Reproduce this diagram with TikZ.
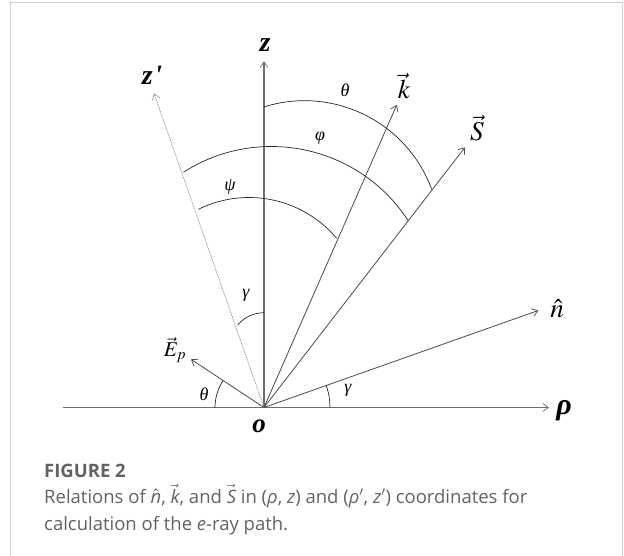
\documentclass[tikz,border=0pt]{standalone}
\usepackage{mathptmx}
\usepackage[no-math]{fontspec}
\newfontfamily\tim{Liberation Serif}
\newfontfamily\capf{Open Sans}
\usetikzlibrary{arrows.meta}
\definecolor{ln}{HTML}{4A4A4A}
\definecolor{axc}{HTML}{6E6E6E}
\definecolor{capc}{HTML}{626262}
\definecolor{frm}{HTML}{D0D0D0}
\begin{document}
\begin{tikzpicture}[x=1pt,y=-1pt,
  tip/.style={-{Straight Barb[length=5.5pt,width=8pt,line width=0.7pt]}},
  axisline/.style={draw=axc, line width=1.1pt, tip},
  vecline/.style={draw=ln, line width=0.8pt, tip},
  dotline/.style={draw=gray!80, line width=0.7pt, dash pattern=on 1.6pt off 0.9pt, tip},
  arcline/.style={draw=black!85, line width=0.7pt},
  axlbl/.style={inner sep=0pt, font=\tim\bfseries\itshape\fontsize{28}{28}\selectfont},
  veclbl/.style={inner sep=0pt, font=\fontsize{27}{27}\selectfont},
  grk/.style={inner sep=0pt, font=\tim\itshape\fontsize{18}{18}\selectfont},
  captxt/.style={inner sep=0pt, anchor=base west, text=capc, font=\capf\fontsize{18.5}{18.5}\selectfont}]
\useasboundingbox (0,0) rectangle (624,556);
\draw[frm, line width=1.4pt] (10.5,570) -- (10.5,2.5) -- (622.5,2.5) -- (622.5,570);

% points
\coordinate (O) at (264,407.5);
\coordinate (rhoL) at (63.3,407.5);
\coordinate (rhoT) at (549,407.5);
\coordinate (zT) at (264,61.5);
\coordinate (zpT) at (154,93.3);
\coordinate (kT) at (396.7,105);
\coordinate (ST) at (465,147.3);
\coordinate (nT) at (538.3,310.5);
\coordinate (ET) at (191,359.3);

% axes and vectors
\draw[axisline] (rhoL) -- (rhoT);
\draw[axisline] (O) -- (zT);
\draw[dotline] (O) -- (zpT);
\draw[vecline] (O) -- (kT);
\draw[vecline] (O) -- (ST);
\draw[vecline] (O) -- (nT);
\draw[vecline] (O) -- (ET);

% arcs
\coordinate (cth) at (304.5,236.3);
\coordinate (cph) at (271.4,309.8);
\coordinate (cps) at (249,311.9);
\coordinate (cga) at (264,347);
\draw[arcline] ([shift={(-107.4:135.6)}]cth) arc[start angle=-107.4, end angle=-20.3, radius=135.6];
\draw[arcline] ([shift={(-122.6:163.3)}]cph) arc[start angle=-122.6, end angle=-33.1, radius=163.3];
\draw[arcline] ([shift={(-116.3:114.4)}]cps) arc[start angle=-116.3, end angle=-40, radius=114.4];
\draw[arcline] ([shift={(-140:34.3)}]cga) arc[start angle=-140, end angle=-90, radius=34.3];
\draw[arcline] ([shift={(-146.6:49)}]O) arc[start angle=-146.6, end angle=-180, radius=49];
\draw[arcline] ([shift={(0:66)}]O) arc[start angle=0, end angle=-19.3, radius=66];

% labels
\node[axlbl] (zl) at (265,45) {z};
\node[axlbl] (zpl) at (152,75) {z\kern1.5pt'};
\node[axlbl, font=\tim\bfseries\itshape\fontsize{30}{30}\selectfont] (rhol) at (564,411) {ρ};
\node[axlbl, font=\tim\bfseries\itshape\fontsize{27}{27}\selectfont] (ol) at (259,426) {o};
\node[veclbl] (kl) at (404,86) {$\vec{k}$};
\node[veclbl] (Sl) at (477,128) {$\vec{S}$};
\node[veclbl] (nl) at (557,309) {$\hat{n}$};
\node[inner sep=0pt, font=\fontsize{21}{21}\selectfont] (El) at (175,350) {$\vec{E}_{p}$};
\node[grk] (th1) at (345,90) {θ};
\node[grk] (phl) at (320,138) {φ};
\node[grk] (psl) at (230,187) {ψ};
\node[grk] (ga1) at (246,295) {γ};
\node[grk] (th2) at (204,394) {θ};
\node[grk] (ga2) at (348,390) {γ};

% caption
\node[captxt, font=\capf\bfseries\fontsize{18.5}{18.5}\selectfont] (cap0) at (44,477) {FIGURE 2};
\node[captxt] (cap1) at (44,503) {Relations of $\hat{\mbox{\itshape n}}$, $\vec{\mbox{\itshape k}}$, and $\vec{\mbox{\itshape S}}$ in ({\itshape ρ}, {\itshape z}) and ({\itshape ρ}$'$, {\itshape z}$'$) coordinates for};
\node[captxt] (cap2) at (44,530) {calculation of the {\itshape e}-ray path.};
\end{tikzpicture}
\end{document}
